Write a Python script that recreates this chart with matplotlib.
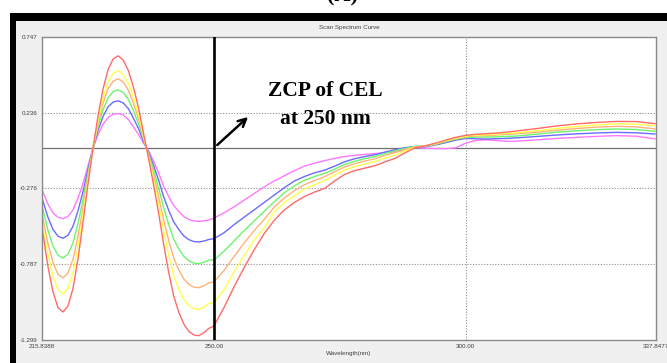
import numpy as np
import matplotlib.pyplot as plt
from matplotlib.patches import Rectangle

# wavelength grid (nm)
wavelength = [215.84, 217, 218, 219, 220, 221, 222, 223, 224, 225, 226, 227, 228,
              229, 230, 231, 232, 233, 234, 235, 236, 237, 238, 239, 240, 241, 242,
              243, 244, 245, 246, 247, 248, 249, 250, 252, 254, 256, 258, 260, 262,
              264, 266, 268, 270, 272, 274, 276, 278, 280, 282, 284, 286, 288, 290,
              292, 294, 296, 298, 300, 302, 304, 306, 308, 310, 314, 318, 322, 326,
              330, 334, 337.65]

red = [-0.54, -0.80, -0.97, -1.08, -1.11, -1.07, -0.95, -0.75, -0.50, -0.24, 0.0,
       0.22, 0.40, 0.53, 0.60, 0.62, 0.59, 0.52, 0.41, 0.27, 0.10, -0.07, -0.25,
       -0.44, -0.65, -0.84, -1.00, -1.11, -1.19, -1.24, -1.265, -1.27, -1.25, -1.22,
       -1.205, -1.08, -0.94, -0.81, -0.69, -0.58, -0.49, -0.42, -0.37, -0.33, -0.30,
       -0.275, -0.225, -0.18, -0.155, -0.138, -0.122, -0.096, -0.072, -0.035, 0.0,
       0.012, 0.03, 0.05, 0.069, 0.083, 0.09, 0.094, 0.098, 0.104, 0.112, 0.128,
       0.146, 0.16, 0.17, 0.177, 0.176, 0.162]
yellow = [-0.50, -0.716, -0.864, -0.958, -0.99, -0.949, -0.844, -0.668, -0.448,
          -0.216, 0.0, 0.186, 0.338, 0.446, 0.503, 0.52, 0.494, 0.434, 0.34, 0.223,
          0.082, -0.06, -0.213, -0.378, -0.56, -0.723, -0.86, -0.954, -1.023,
          -1.066, -1.088, -1.092, -1.076, -1.052, -1.047, -0.96, -0.84, -0.73,
          -0.625, -0.54, -0.435, -0.37, -0.325, -0.28, -0.25, -0.222, -0.185,
          -0.15, -0.128, -0.11, -0.094, -0.07, -0.05, -0.022, 0.003, 0.012, 0.027,
          0.046, 0.064, 0.077, 0.084, 0.087, 0.091, 0.095, 0.10, 0.113, 0.129,
          0.142, 0.153, 0.161, 0.158, 0.148]
orange = [-0.45, -0.645, -0.774, -0.854, -0.88, -0.846, -0.754, -0.598, -0.404,
          -0.196, 0.0, 0.168, 0.304, 0.40, 0.45, 0.465, 0.442, 0.388, 0.302, 0.198,
          0.072, -0.051, -0.183, -0.327, -0.486, -0.626, -0.744, -0.824, -0.886,
          -0.923, -0.942, -0.946, -0.933, -0.913, -0.907, -0.83, -0.735, -0.645,
          -0.56, -0.485, -0.40, -0.34, -0.29, -0.25, -0.222, -0.196, -0.163, -0.13,
          -0.108, -0.09, -0.075, -0.052, -0.033, -0.012, 0.005, 0.012, 0.025,
          0.044, 0.061, 0.073, 0.079, 0.082, 0.085, 0.089, 0.093, 0.103, 0.117,
          0.129, 0.138, 0.144, 0.14, 0.126]
green = [-0.39, -0.556, -0.663, -0.726, -0.745, -0.719, -0.643, -0.512, -0.349,
         -0.17, 0.0, 0.143, 0.258, 0.338, 0.379, 0.39, 0.372, 0.325, 0.251, 0.164,
         0.059, -0.041, -0.149, -0.27, -0.404, -0.519, -0.616, -0.682, -0.733,
         -0.764, -0.78, -0.784, -0.774, -0.759, -0.759, -0.70, -0.63, -0.56,
         -0.495, -0.43, -0.365, -0.305, -0.258, -0.22, -0.195, -0.174, -0.145,
         -0.113, -0.092, -0.074, -0.06, -0.04, -0.022, -0.005, 0.008, 0.01, 0.022,
         0.04, 0.057, 0.068, 0.071, 0.072, 0.073, 0.075, 0.078, 0.09, 0.104,
         0.114, 0.121, 0.126, 0.122, 0.11]
blue = [-0.34, -0.468, -0.551, -0.598, -0.612, -0.592, -0.531, -0.426, -0.295,
        -0.145, 0.0, 0.119, 0.213, 0.277, 0.308, 0.316, 0.301, 0.263, 0.199, 0.13,
        0.045, -0.03, -0.119, -0.219, -0.33, -0.422, -0.50, -0.552, -0.596,
        -0.621, -0.634, -0.637, -0.631, -0.62, -0.615, -0.575, -0.52, -0.47,
        -0.42, -0.37, -0.32, -0.27, -0.225, -0.195, -0.17, -0.152, -0.125,
        -0.095, -0.075, -0.06, -0.048, -0.03, -0.014, 0.0, 0.008, 0.006, 0.018,
        0.033, 0.05, 0.062, 0.06, 0.058, 0.06, 0.062, 0.066, 0.075, 0.085,
        0.093, 0.099, 0.103, 0.10, 0.092]
magenta = [-0.285, -0.38, -0.44, -0.47, -0.48, -0.465, -0.42, -0.34, -0.24, -0.12,
           0.0, 0.09, 0.16, 0.205, 0.225, 0.23, 0.22, 0.19, 0.14, 0.09, 0.03,
           -0.02, -0.09, -0.17, -0.26, -0.33, -0.39, -0.43, -0.465, -0.485,
           -0.495, -0.498, -0.495, -0.488, -0.476, -0.44, -0.40, -0.355, -0.31,
           -0.265, -0.225, -0.19, -0.155, -0.125, -0.105, -0.088, -0.072, -0.06,
           -0.052, -0.046, -0.04, -0.034, -0.028, -0.015, 0.0, -0.004, -0.006,
           -0.007, -0.002, 0.03, 0.048, 0.053, 0.048, 0.043, 0.043, 0.052, 0.062,
           0.069, 0.076, 0.081, 0.077, 0.059]

series = [magenta, blue, green, orange, yellow, red]
colors = ['#ff78ff', '#6b6bff', '#6cf56c', '#ffb27a', '#ffff4a', '#ff6a6a']

x_min, x_max = 215.8388, 337.8477
y_ticks = [0.747, 0.236, -0.276, -0.787, -1.299]
x_ticks = [215.8388, 250.0, 300.0, 337.8477]
x_labels = ['215.8388', '250.00', '300.00', '337.8477']

fig = plt.figure(figsize=(6.67, 3.63), dpi=100)
fig.patch.set_facecolor('white')
W, H = 667, 363

# window frame: black strip on top and left, grey panel
fig.add_artist(Rectangle((10 / W, 0), 1, (H - 13) / H, transform=fig.transFigure,
                         facecolor='black', edgecolor='none', zorder=0))
fig.add_artist(Rectangle((16 / W, 0), 1, (H - 21) / H, transform=fig.transFigure,
                         facecolor='#f0f0f0', edgecolor='none', zorder=0))
fig.text(343 / W, 1.0 + 4 / H, '(A)', ha='center', va='center', fontsize=16,
         fontweight='bold', family='Liberation Serif')

ax = fig.add_axes([42 / W, 1 - 340 / H, (656 - 42) / W, (340 - 37) / H])
ax.set_facecolor('white')

for y in y_ticks[1:-1]:
    ax.axhline(y, color='#909090', linestyle=(0, (1, 1.5)), linewidth=0.8, zorder=1)
ax.axvline(300, color='#909090', linestyle=(0, (1, 1.5)), linewidth=0.8, zorder=1)
ax.axhline(0, color='#707070', linewidth=0.9, zorder=1)

for s, c in zip(series, colors):
    ax.plot(wavelength, s, color=c, linewidth=1.0, zorder=2)

ax.axvline(250, color='black', linewidth=1.9, zorder=4)
ax.annotate('', xy=(257.2, 0.22), xytext=(250.25, 0.005),
            arrowprops=dict(arrowstyle='->', color='black', lw=1.8,
                            mutation_scale=14), zorder=5)
ax.text(272.2, 0.382, 'ZCP of CEL', ha='center', va='center', fontsize=15.5,
        fontweight='bold', family='Liberation Serif')
ax.text(272.1, 0.193, 'at 250 nm', ha='center', va='center', fontsize=15.5,
        fontweight='bold', family='Liberation Serif')

ax.set_xlim(x_min, x_max)
ax.set_ylim(y_ticks[-1], y_ticks[0])
ax.set_xticks(x_ticks)
ax.set_xticklabels(x_labels)
ax.set_yticks(y_ticks)
ax.set_yticklabels([f'{v:.3f}' for v in y_ticks])
ax.tick_params(length=0, pad=3, labelsize=4.5, labelcolor='#404040')
for lab in ax.get_xticklabels() + ax.get_yticklabels():
    lab.set_family('Liberation Sans')
for sp in ax.spines.values():
    sp.set_color('#8a8a8a')
    sp.set_linewidth(1.0)

ax.set_xlabel('Wavelength(nm)', fontsize=4.5, color='#404040',
              family='Liberation Sans', labelpad=1)
ax.set_title('Scan Spectrum Curve', fontsize=4.5, color='#404040',
             family='Liberation Sans', pad=6)

plt.savefig('out.png', dpi=100)
